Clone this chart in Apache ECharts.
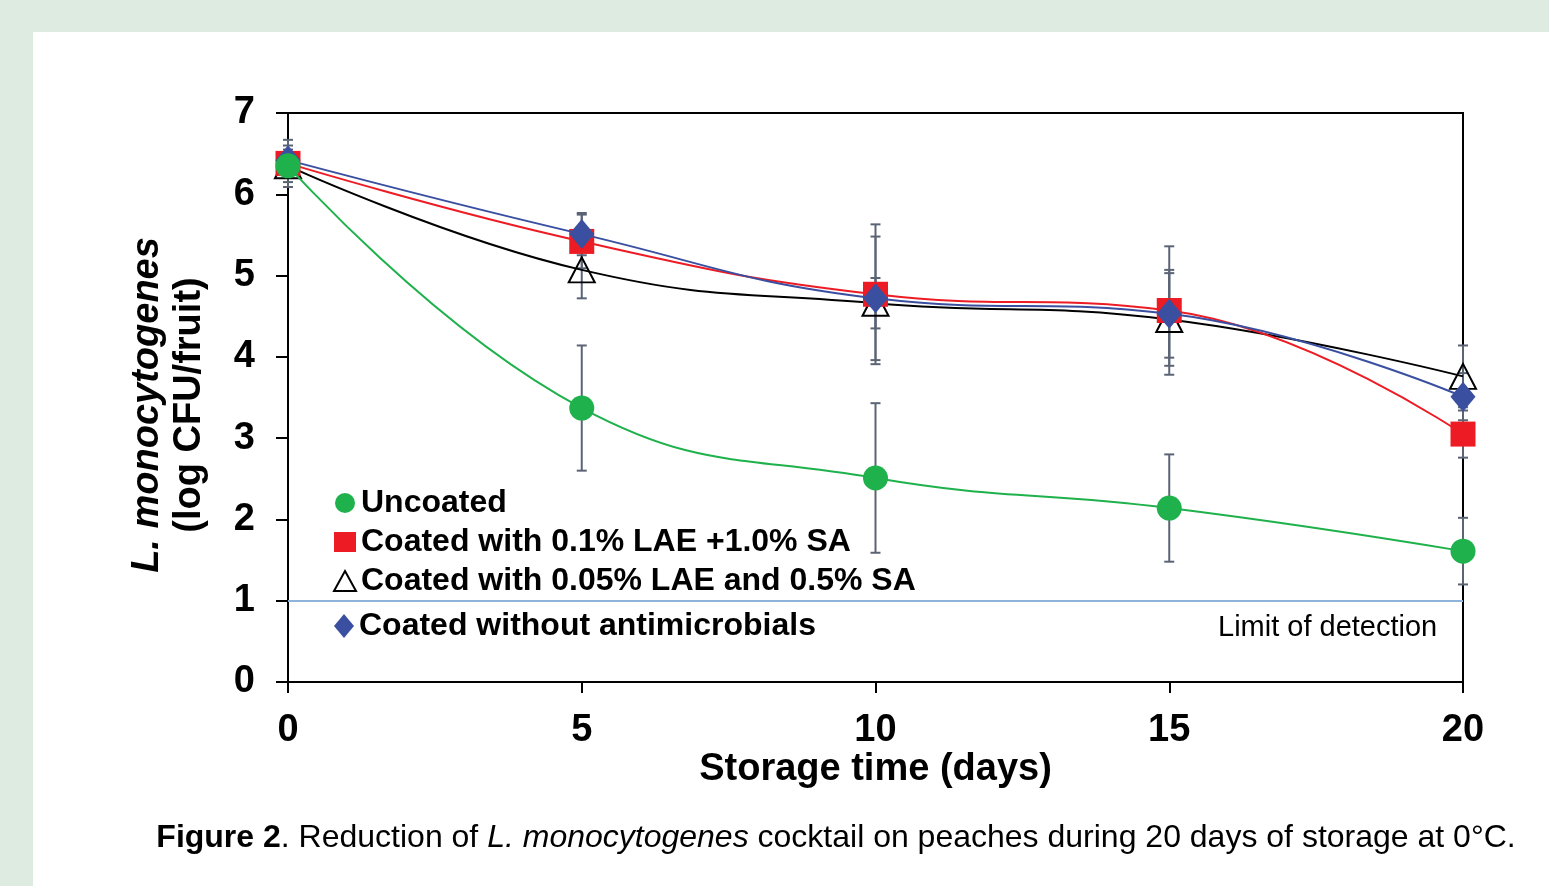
<!DOCTYPE html>
<html>
<head>
<meta charset="utf-8">
<script src="https://cdn.jsdelivr.net/npm/echarts@6/dist/echarts.min.js"></script>
<style>
  html, body { margin: 0; padding: 0; background: #deebe1; }
  #panel { position: absolute; left: 33px; top: 32px; right: 0; bottom: 0; background: #fff; }
  #chart { position: absolute; left: 0; top: 0; width: 1549px; height: 886px; }
</style>
</head>
<body>
<div id="panel"></div>
<div id="chart"></div>
<script>
const days = [0, 5, 10, 15, 20]
const yTicks = [0, 1, 2, 3, 4, 5, 6, 7]
const detectionLimit = 1

const uncoated = [6.35, 3.37, 2.51, 2.14, 1.61]
const uncoatedSd = [0.15, 0.77, 0.92, 0.66, 0.41]
const lae10 = [6.38, 5.42, 4.77, 4.57, 3.05]
const lae10Sd = [0.29, 0.33, 0.86, 0.79, 0.29]
const lae05 = [6.35, 5.07, 4.66, 4.46, 3.76]
const lae05Sd = [0.2, 0.35, 0.31, 0.57, 0.38]
const noAntimicrobial = [6.42, 5.51, 4.72, 4.53, 3.51]
const noAntimicrobialSd = [0.18, 0.26, 0.76, 0.54, 0.29]

const names = [
  'Uncoated',
  'Coated with 0.1% LAE +1.0% SA',
  'Coated with 0.05% LAE and 0.5% SA',
  'Coated without antimicrobials'
]

const font = 'Liberation Sans, Arial, sans-serif'
const errColor = '#5b6474'

const pairs = (values) => days.map((d, i) => [d, values[i]])

const errorSeries = (id, means, sds) => ({
  type: 'custom',
  id,
  silent: true,
  z: 1,
  data: days.map((d, i) => [d, means[i] - sds[i], means[i] + sds[i]]),
  encode: { x: 0, y: [1, 2] },
  renderItem: (params, api) => {
    const lo = api.coord([api.value(0), api.value(1)])
    const hi = api.coord([api.value(0), api.value(2)])
    const w = 5
    const style = { stroke: errColor, lineWidth: 2 }
    return {
      type: 'group',
      children: [
        { type: 'line', shape: { x1: hi[0], y1: hi[1], x2: lo[0], y2: lo[1] }, style },
        { type: 'line', shape: { x1: hi[0] - w, y1: hi[1], x2: hi[0] + w, y2: hi[1] }, style },
        { type: 'line', shape: { x1: lo[0] - w, y1: lo[1], x2: lo[0] + w, y2: lo[1] }, style }
      ]
    }
  }
})

const lineSeries = (name, values, color, symbol, symbolSize, itemStyle, z) => ({
  type: 'line',
  name,
  data: pairs(values),
  smooth: 0.45,
  symbol,
  symbolSize,
  showAllSymbol: true,
  z,
  lineStyle: { color, width: 2 },
  itemStyle: itemStyle || { color },
  emphasis: { disabled: true }
})

const legendText = { fontFamily: font, fontWeight: 'bold', fontSize: 32, color: '#000', lineHeight: 30 }

const chart = echarts.init(document.getElementById('chart'))
chart.setOption({
  animation: false,
  backgroundColor: 'transparent',
  textStyle: { fontFamily: font },
  grid: {
    left: 288, top: 113, width: 1175, height: 569,
    show: true, borderColor: '#000', borderWidth: 2, backgroundColor: 'transparent'
  },
  legend: [
    {
      orient: 'vertical', left: 328, top: 482, itemGap: 7, itemWidth: 22, itemHeight: 20,
      selectedMode: false, textStyle: legendText,
      data: [
        { name: names[0], icon: 'circle', itemStyle: { color: '#1fb14c' } },
        { name: names[1], icon: 'rect', itemStyle: { color: '#ed1c24' } },
        { name: names[2], icon: 'triangle', itemStyle: { color: 'transparent', borderColor: '#000', borderWidth: 2 } }
      ]
    },
    {
      orient: 'vertical', left: 329, top: 605, itemWidth: 20, itemHeight: 24,
      selectedMode: false, textStyle: legendText,
      data: [{ name: names[3], icon: 'diamond', itemStyle: { color: '#3a4fa0' } }]
    }
  ],
  xAxis: {
    type: 'value', min: 0, max: 20, interval: 5,
    name: 'Storage time (days)', nameLocation: 'middle', nameGap: 69, nameMoveOverlap: false,
    nameTextStyle: { fontFamily: font, fontWeight: 'bold', fontSize: 38, color: '#000' },
    axisLine: { lineStyle: { color: '#000', width: 2 } },
    axisTick: { length: 11, lineStyle: { color: '#000', width: 2 } },
    axisLabel: { fontFamily: font, fontWeight: 'bold', fontSize: 38, color: '#000', margin: 30 },
    splitLine: { show: false }
  },
  yAxis: {
    type: 'value', min: yTicks[0], max: yTicks[yTicks.length - 1], interval: 1,
    axisLine: { show: true, lineStyle: { color: '#000', width: 2 } },
    axisTick: { show: true, length: 12, lineStyle: { color: '#000', width: 2 } },
    axisLabel: { fontFamily: font, fontWeight: 'bold', fontSize: 38, color: '#000', margin: 33 },
    splitLine: { show: false }
  },
  series: [
    errorSeries('errTri', lae05, lae05Sd),
    errorSeries('errRed', lae10, lae10Sd),
    errorSeries('errBlue', noAntimicrobial, noAntimicrobialSd),
    errorSeries('errGreen', uncoated, uncoatedSd),
    lineSeries(names[2], lae05, '#000', 'triangle', [26, 25],
      { color: 'transparent', borderColor: '#000', borderWidth: 2 }, 2),
    lineSeries(names[1], lae10, '#ed1c24', 'rect', 25, null, 3),
    lineSeries(names[3], noAntimicrobial, '#3a4fa0', 'diamond', [25, 30], null, 4),
    {
      ...lineSeries(names[0], uncoated, '#1fb14c', 'circle', 25, null, 5),
      markLine: {
        silent: true,
        symbol: 'none',
        lineStyle: { color: '#8fb4da', width: 2, type: 'solid' },
        label: { show: false },
        data: [{ yAxis: detectionLimit }]
      }
    }
  ],
  graphic: [
    {
      type: 'text', left: 1218, top: 613,
      style: { text: 'Limit of detection', font: '29px ' + font, fill: '#000' }
    },
    {
      type: 'text', x: 148, y: 405, rotation: Math.PI / 2,
      style: {
        text: 'L. monocytogenes', font: 'italic bold 38px ' + font, fill: '#000',
        textAlign: 'center', textVerticalAlign: 'middle'
      }
    },
    {
      type: 'text', x: 190, y: 405, rotation: Math.PI / 2,
      style: {
        text: '(log CFU/fruit)', font: 'bold 38px ' + font, fill: '#000',
        textAlign: 'center', textVerticalAlign: 'middle'
      }
    },
    {
      type: 'text', x: 836, y: 838,
      style: {
        text: '{b|Figure 2}. Reduction of {i|L. monocytogenes} cocktail on peaches during 20 days of storage at 0°C.',
        font: '32px ' + font, fill: '#000', textAlign: 'center', textVerticalAlign: 'middle',
        rich: {
          b: { fontWeight: 'bold', fontSize: 32, fontFamily: font },
          i: { fontStyle: 'italic', fontSize: 32, fontFamily: font }
        }
      }
    }
  ]
})
</script>
</body>
</html>
